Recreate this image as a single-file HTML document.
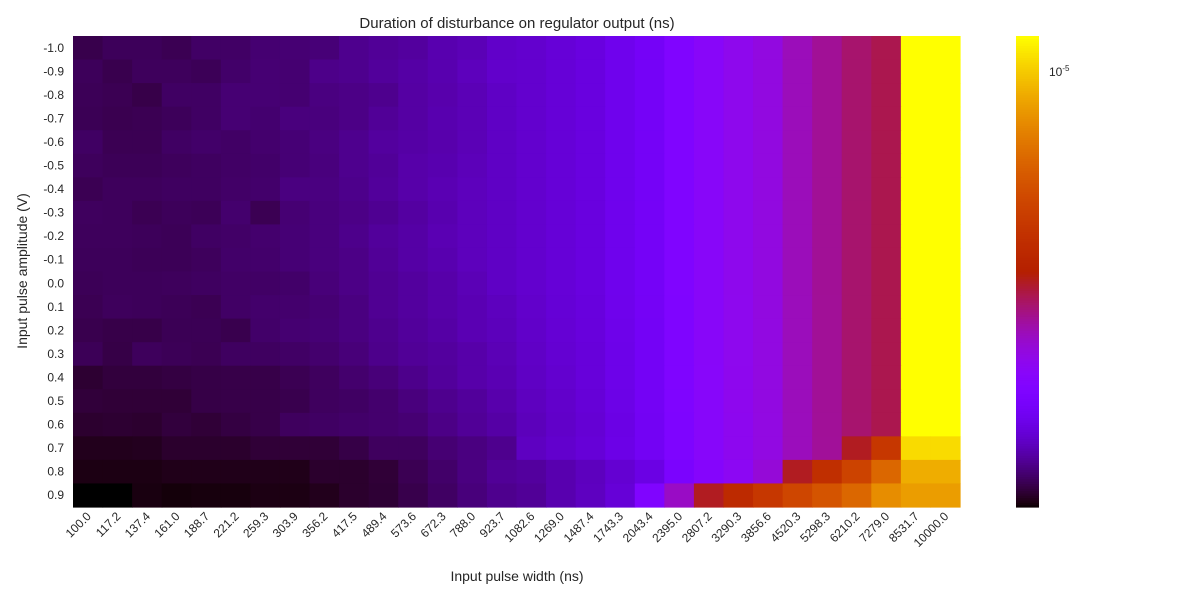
<!DOCTYPE html>
<html><head><meta charset="utf-8">
<style>
body{margin:0;background:#fff;font-family:"Liberation Sans",sans-serif;}
svg text{font-family:"Liberation Sans",sans-serif;fill:#262626;}
</style></head>
<body>
<svg id="chart" width="1200" height="600" viewBox="0 0 1200 600" xmlns="http://www.w3.org/2000/svg">
<text x="517" y="28" font-size="15" text-anchor="middle">Duration of disturbance on regulator output (ns)</text>
<text x="517" y="581" font-size="14" text-anchor="middle">Input pulse width (ns)</text>
<text x="0" y="0" font-size="14" text-anchor="middle" transform="translate(27,271) rotate(-90)">Input pulse amplitude (V)</text>
<g id="cells"></g>
<g id="xticks"></g>
<g id="yticks"></g>
<g id="cbar"></g>
</svg>
<script>
const xLabels=["100.0","117.2","137.4","161.0","188.7","221.2","259.3","303.9","356.2","417.5","489.4","573.6","672.3","788.0","923.7","1082.6","1269.0","1487.4","1743.3","2043.4","2395.0","2807.2","3290.3","3856.6","4520.3","5298.3","6210.2","7279.0","8531.7","10000.0"];
const yLabels=["-1.0","-0.9","-0.8","-0.7","-0.6","-0.5","-0.4","-0.3","-0.2","-0.1","0.0","0.1","0.2","0.3","0.4","0.5","0.6","0.7","0.8","0.9"];
const values=[
[127,133,133,130,138,138,144,145,147,160,165,170,182,188,205,211,222,233,258,285,348,413,469,517,632,734,852,941,14600,14600],
[133,128,134,134,132,140,145,144,157,160,168,175,182,193,208,211,222,233,258,285,348,413,469,517,632,734,852,941,14600,14600],
[132,130,126,137,137,145,145,144,152,155,160,173,180,188,201,211,222,233,258,285,348,413,469,517,632,734,852,941,14600,14600],
[131,129,130,133,137,145,143,150,150,155,165,173,182,188,201,211,222,233,258,285,348,413,469,517,632,734,852,941,14600,14600],
[137,130,130,137,140,138,142,146,152,160,170,175,180,188,201,211,222,233,258,285,348,413,469,517,632,734,852,941,14600,14600],
[134,132,132,134,136,138,140,146,150,160,166,178,182,190,201,211,222,233,258,285,348,413,469,517,632,734,852,941,14600,14600],
[130,134,134,136,136,139,141,152,152,158,168,178,185,193,201,211,222,233,258,285,348,413,469,517,632,734,852,941,14600,14600],
[135,134,130,133,132,142,130,145,150,155,162,172,182,193,201,211,222,233,258,285,348,413,469,517,632,734,852,941,14600,14600],
[134,134,133,132,137,139,142,146,150,158,168,175,185,193,201,211,222,233,258,285,348,413,469,517,632,734,852,941,14600,14600],
[133,133,132,132,134,140,141,146,150,155,165,175,182,193,201,211,222,233,258,285,348,413,469,517,632,734,852,941,14600,14600],
[132,133,133,134,136,138,138,140,148,155,163,170,178,188,201,211,222,233,258,285,348,413,469,517,632,734,852,941,14600,14600],
[130,134,133,132,130,138,141,142,145,152,163,170,178,185,195,208,220,230,255,283,346,411,467,515,630,732,850,940,14600,14600],
[128,126,126,131,131,128,140,144,146,152,160,168,175,185,192,205,218,228,252,282,345,410,466,514,630,732,850,940,14600,14600],
[132,125,134,132,130,136,136,138,142,148,158,165,170,178,188,202,215,226,250,280,344,410,466,514,630,732,850,940,14600,14600],
[117,121,121,123,125,126,126,130,135,142,148,158,168,178,185,200,212,225,250,280,343,409,465,513,628,730,850,940,14600,14600],
[120,119,119,119,125,126,126,128,135,137,142,150,160,168,180,196,208,222,246,278,342,408,464,512,628,730,850,940,14600,14600],
[116,117,116,121,119,123,126,135,137,140,142,145,155,165,175,192,205,218,242,275,340,406,462,510,626,728,848,940,14600,14600],
[109,109,110,115,115,115,119,119,119,125,135,135,145,152,160,198,210,222,245,275,340,405,460,510,625,725,1090,1990,11400,11400],
[106,106,106,108,108,108,108,108,115,115,119,130,140,152,165,170,182,195,215,240,320,390,445,544,1090,1710,2420,3990,8000,8000],
[100,100,105,103,104,104,106,106,109,115,118,127,137,149,160,165,182,197,222,348,600,1090,1550,1990,2550,3120,3990,5960,6940,6940]
];
const vmin=100, vmax=14600;
const cbTickValues=[10000];
const cbTickLabels=["10","-5"];

const X0=73,X1=960,Y0=36,Y1=507;
const NS="http://www.w3.org/2000/svg";
const cw=(X1-X0)/xLabels.length, ch=(Y1-Y0)/yLabels.length;
function xPos(i){return X0+i*cw;}
function yPos(j){return Y0+j*ch;}
function norm(v){return Math.max(0,Math.min(1,(Math.log(v)-Math.log(vmin))/(Math.log(vmax)-Math.log(vmin))));}
function cmap(t){
  const r=Math.sqrt(t),g=t*t*t,b=Math.max(0,Math.sin(2*Math.PI*t));
  return "rgb("+Math.round(r*255)+","+Math.round(g*255)+","+Math.round(b*255)+")";
}
function mk(tag,attrs,parent){const e=document.createElementNS(NS,tag);for(const k in attrs)e.setAttribute(k,attrs[k]);parent.appendChild(e);return e;}
const cells=document.getElementById('cells');
values.forEach((row,j)=>row.forEach((v,i)=>{
  const r=mk('rect',{x:xPos(i),y:yPos(j),width:cw+0.6,height:ch+0.6,fill:cmap(norm(v))},cells);
  
  
}));
const xt=document.getElementById('xticks');
xLabels.forEach((l,i)=>{
  const cx=xPos(i)+cw/2+4, cy=517;
  const t=mk('text',{x:cx,y:cy,'font-size':12,'text-anchor':'end',transform:`rotate(-45 ${cx} ${cy})`},xt);
  t.textContent=l;
  
  
});
const yt=document.getElementById('yticks');
yLabels.forEach((l,j)=>{
  const t=mk('text',{x:64,y:yPos(j)+ch/2+4,'font-size':12,'text-anchor':'end'},yt);
  t.textContent=l;
  
  
});
const cb=document.getElementById('cbar');
const CX=1016,CW=23,N=200;
for(let k=0;k<N;k++){
  const t=(k+0.5)/N;
  const r=mk('rect',{x:CX,y:Y1-(k+1)*(Y1-Y0)/N,width:CW,height:(Y1-Y0)/N+0.6,fill:cmap(t)},cb);
  
  
}
cbTickValues.forEach(v=>{
  const y=Y1-norm(v)*(Y1-Y0);
  const t=mk('text',{x:1049,y:y+4,'font-size':12},cb);
  
  
  const a=mk('tspan',{},t);a.textContent=cbTickLabels[0];
  const b=mk('tspan',{dy:-5,'font-size':8},t);b.textContent=cbTickLabels[1];
});
</script>
</body></html>
